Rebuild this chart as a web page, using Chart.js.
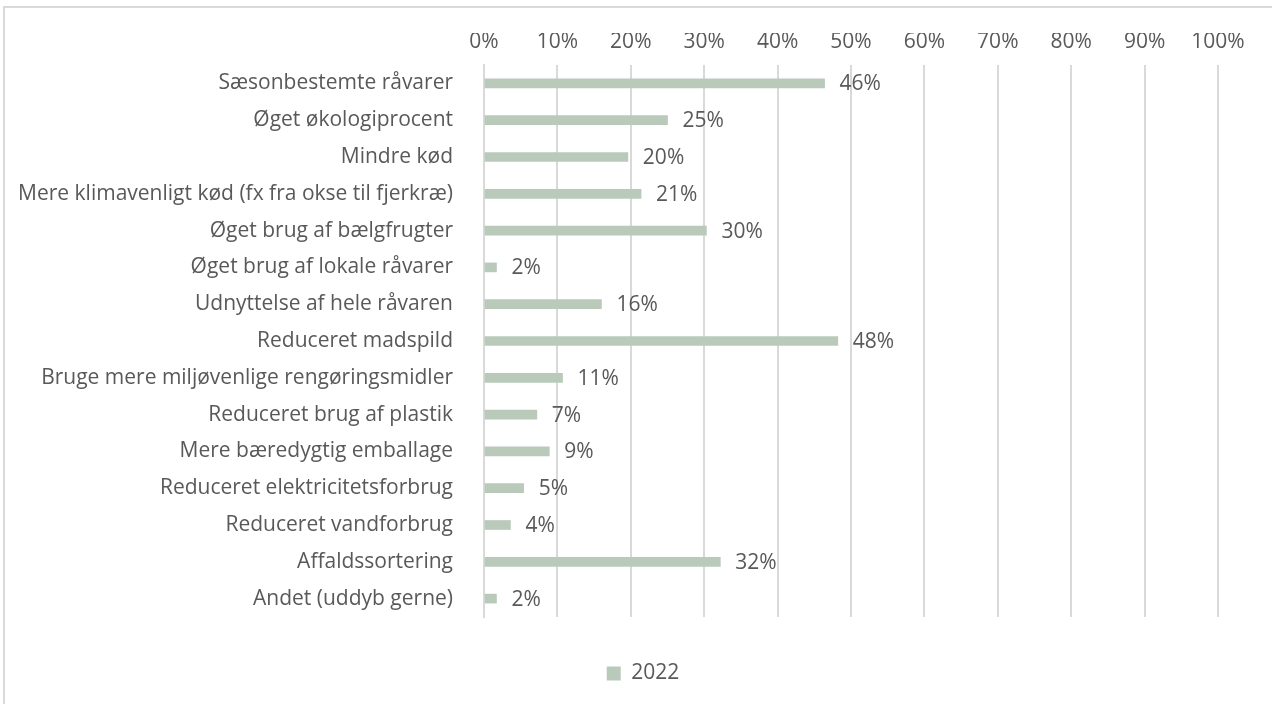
<!DOCTYPE html>
<html>
<head>
<meta charset="utf-8">
<script src="https://cdn.jsdelivr.net/npm/chart.js@4.4.0/dist/chart.umd.min.js"></script>
<style>
  html, body { margin: 0; padding: 0; background: #fff; overflow: hidden; }
  #frame {
    position: absolute; left: 3px; top: 6px;
    width: 1300px; height: 760px;
    border: 2px solid #d9d9d9;
  }
  #wrap { position: absolute; left: 0; top: 0; width: 1272px; height: 704px; }
</style>
</head>
<body>
<div id="frame"></div>
<div id="wrap"><canvas id="chart"></canvas></div>
<script>
const categories = [
  'Sæsonbestemte råvarer',
  'Øget økologiprocent',
  'Mindre kød',
  'Mere klimavenligt kød (fx fra okse til fjerkræ)',
  'Øget brug af bælgfrugter',
  'Øget brug af lokale råvarer',
  'Udnyttelse af hele råvaren',
  'Reduceret madspild',
  'Bruge mere miljøvenlige rengøringsmidler',
  'Reduceret brug af plastik',
  'Mere bæredygtig emballage',
  'Reduceret elektricitetsforbrug',
  'Reduceret vandforbrug',
  'Affaldssortering',
  'Andet (uddyb gerne)'
];
const values2022 = [46.4, 25.0, 19.6, 21.4, 30.3, 1.7, 16.0, 48.2, 10.7, 7.2, 8.9, 5.4, 3.6, 32.2, 1.7];
const xTicks = [0, 10, 20, 30, 40, 50, 60, 70, 80, 90, 100];

const textColor = '#595959';
const fontFamily = '"Open Sans", sans-serif';
const fontSize = 21;

// draw the value labels to the right of each bar
const valueLabels = {
  id: 'valueLabels',
  afterDatasetsDraw(chart) {
    const ctx = chart.ctx;
    ctx.save();
    ctx.font = fontSize + 'px ' + fontFamily;
    ctx.fillStyle = textColor;
    ctx.textAlign = 'left';
    ctx.textBaseline = 'middle';
    chart.getDatasetMeta(0).data.forEach((bar, i) => {
      ctx.fillText(Math.round(values2022[i]) + '%', bar.x + 15, bar.y + 1);
    });
    ctx.restore();
  }
};

const ctx = document.getElementById('chart').getContext('2d');
new Chart(ctx, {
  type: 'bar',
  data: {
    labels: categories,
    datasets: [{
      label: '2022',
      data: values2022,
      backgroundColor: '#b9cabb',
      barThickness: 9
    }]
  },
  options: {
    indexAxis: 'y',
    responsive: true,
    maintainAspectRatio: false,
    animation: false,
    layout: { padding: { top: 33, right: 0, bottom: 10, left: 14 } },
    scales: {
      x: {
        position: 'top',
        min: 0,
        max: 100,
        afterBuildTicks(scale) { scale.ticks = xTicks.map(v => ({ value: v })); },
        afterFit(scale) { scale.height = 32; },
        grid: { color: '#d9d9d9', lineWidth: 2, drawTicks: false },
        border: { display: false },
        ticks: {
          color: textColor,
          font: { family: fontFamily, size: fontSize },
          padding: 10,
          callback: v => v + '%'
        }
      },
      y: {
        afterFit(scale) { scale.width = 470; },
        grid: { display: false },
        border: { display: true, color: '#d9d9d9', width: 2 },
        ticks: {
          color: textColor,
          font: { family: fontFamily, size: fontSize },
          padding: 23
        }
      },
      spacer: {
        axis: 'y',
        position: 'right',
        display: true,
        afterFit(scale) { scale.width = 54; },
        grid: { display: false },
        border: { display: false },
        ticks: { display: false }
      }
    },
    plugins: {
      legend: {
        position: 'bottom',
        labels: {
          color: textColor,
          font: { family: fontFamily, size: fontSize },
          boxWidth: 14,
          boxHeight: 14,
          padding: 46
        }
      },
      tooltip: { enabled: false }
    }
  },
  plugins: [valueLabels]
});
</script>
</body>
</html>
